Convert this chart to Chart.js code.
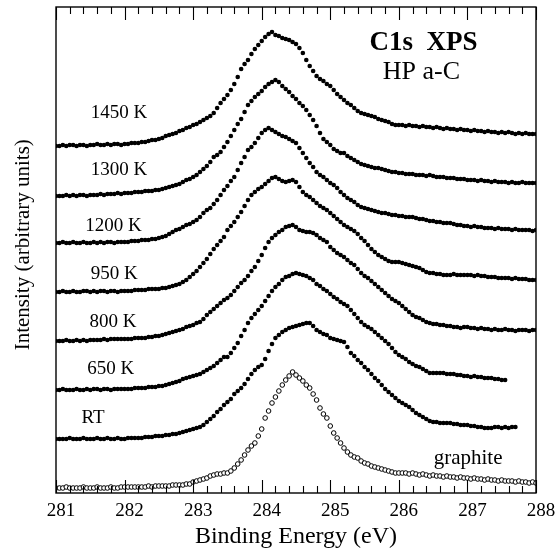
<!DOCTYPE html>
<html>
<head>
<meta charset="utf-8">
<title>C1s XPS</title>
<script src="https://cdn.jsdelivr.net/npm/chart.js@4.4.1/dist/chart.umd.min.js"></script>
<style>
  html, body { margin: 0; padding: 0; background: #fff; }
</style>
</head>
<body>
<canvas id="chart" width="556" height="553"></canvas>
<script>
"use strict";

// binding energy grid (eV), one entry per measured point
var energies = [
  281.00, 281.05, 281.10, 281.15, 281.20, 281.25, 281.30, 281.35, 281.40, 281.45,
  281.50, 281.55, 281.60, 281.65, 281.70, 281.75, 281.80, 281.85, 281.90, 281.95,
  282.00, 282.05, 282.10, 282.15, 282.20, 282.25, 282.30, 282.35, 282.40, 282.45,
  282.50, 282.55, 282.60, 282.65, 282.70, 282.75, 282.80, 282.85, 282.90, 282.95,
  283.00, 283.05, 283.10, 283.15, 283.20, 283.25, 283.30, 283.35, 283.40, 283.45,
  283.50, 283.55, 283.60, 283.65, 283.70, 283.75, 283.80, 283.85, 283.90, 283.95,
  284.00, 284.05, 284.10, 284.15, 284.20, 284.25, 284.30, 284.35, 284.40, 284.45,
  284.50, 284.55, 284.60, 284.65, 284.70, 284.75, 284.80, 284.85, 284.90, 284.95,
  285.00, 285.05, 285.10, 285.15, 285.20, 285.25, 285.30, 285.35, 285.40, 285.45,
  285.50, 285.55, 285.60, 285.65, 285.70, 285.75, 285.80, 285.85, 285.90, 285.95,
  286.00, 286.05, 286.10, 286.15, 286.20, 286.25, 286.30, 286.35, 286.40, 286.45,
  286.50, 286.55, 286.60, 286.65, 286.70, 286.75, 286.80, 286.85, 286.90, 286.95,
  287.00, 287.05, 287.10, 287.15, 287.20, 287.25, 287.30, 287.35, 287.40, 287.45,
  287.50, 287.55, 287.60, 287.65, 287.70, 287.75, 287.80, 287.85, 287.90, 287.95,
  288.00
];

var xTickValues = [281, 282, 283, 284, 285, 286, 287, 288];

var seriesNames = ["1450 K", "1300 K", "1200 K", "950 K", "800 K", "650 K", "RT", "graphite"];

// vertical offset of each spectrum in the stack (arbitrary units)
var seriesOffsets = [347, 297, 250, 201, 152, 103, 54, 5];

// intensities above each spectrum's own baseline (arbitrary units)
var int1450 = [
  0, 0, 1, 0, 1, 1, 0, 1, 1, 0, 1, 1, 2, 1, 1, 2, 1, 2, 2, 1,
  2, 2, 3, 3, 3, 4, 4, 5, 6, 6, 7, 8, 10, 11, 12, 13, 15, 16, 18, 19,
  21, 22, 24, 26, 28, 30, 33, 38, 43, 47, 51, 56, 62, 69, 77, 82, 86, 92, 97, 101,
  105, 109, 112, 114, 111, 110, 108, 107, 106, 104, 102, 98, 93, 86, 80, 75, 70, 67, 65, 62,
  60, 56, 52, 49, 46, 43, 41, 38, 35, 33, 32, 31, 30, 29, 27, 26, 25, 24, 22, 21,
  21, 21, 20, 21, 20, 20, 19, 20, 19, 19, 18, 19, 18, 17, 18, 17, 17, 16, 17, 16,
  16, 15, 16, 15, 15, 14, 15, 14, 14, 13, 14, 13, 14, 13, 12, 13, 12, 13, 12, 12,
  12
];

var int1300 = [
  0, 0, 0, 1, 0, 1, 0, 1, 1, 0, 1, 1, 1, 2, 1, 2, 2, 2, 3, 2,
  3, 3, 3, 4, 4, 4, 5, 5, 5, 6, 6, 7, 8, 9, 10, 11, 12, 14, 16, 17,
  19, 21, 24, 27, 30, 34, 39, 41, 44, 49, 54, 60, 66, 72, 77, 84, 91, 95, 99, 102,
  105, 109, 112, 114, 116, 114, 110, 107, 104, 100, 97, 93, 90, 86, 81, 76, 70, 63, 57, 54,
  51, 47, 45, 43, 43, 40, 38, 36, 34, 32, 31, 30, 29, 28, 28, 27, 26, 25, 24, 24,
  23, 23, 22, 22, 22, 21, 21, 21, 20, 21, 20, 19, 19, 19, 18, 18, 18, 17, 17, 17,
  16, 16, 16, 15, 16, 15, 15, 14, 15, 14, 14, 14, 13, 14, 13, 13, 14, 13, 13, 13,
  13
];

var int1200 = [
  0, 0, 1, 0, 0, 1, 0, 0, 1, 0, 0, 1, 0, 1, 0, 1, 1, 0, 1, 1,
  1, 1, 2, 2, 2, 3, 3, 3, 4, 4, 5, 6, 7, 9, 11, 13, 14, 16, 18, 19,
  21, 23, 26, 30, 33, 35, 39, 43, 48, 53, 57, 62, 66, 73, 80, 86, 93, 96, 100, 105,
  110, 113, 115, 113, 111, 109, 107, 106, 104, 102, 100, 95, 90, 85, 80, 76, 71, 68, 66, 63,
  60, 58, 55, 51, 48, 45, 43, 41, 38, 36, 35, 34, 33, 32, 31, 30, 30, 29, 28, 28,
  27, 27, 26, 26, 26, 25, 24, 24, 23, 22, 22, 21, 21, 20, 20, 20, 19, 18, 18, 17,
  17, 16, 17, 16, 16, 15, 15, 15, 14, 15, 14, 14, 14, 13, 14, 13, 13, 13, 13, 12,
  13
];

var int950 = [
  0, 0, 1, 0, 0, 1, 0, 0, 1, 1, 0, 1, 0, 1, 1, 0, 1, 1, 0, 1,
  1, 1, 1, 2, 2, 2, 2, 3, 3, 3, 3, 4, 4, 5, 6, 7, 8, 10, 12, 15,
  18, 21, 25, 29, 33, 38, 43, 47, 51, 55, 62, 66, 70, 75, 80, 86, 92, 97, 100, 103,
  105, 108, 111, 114, 115, 113, 111, 110, 111, 112, 110, 105, 100, 97, 95, 92, 89, 86, 84, 82,
  79, 76, 73, 70, 67, 65, 63, 61, 58, 54, 51, 47, 43, 40, 37, 35, 33, 31, 30, 30,
  30, 29, 28, 27, 26, 25, 24, 22, 20, 19, 19, 18, 18, 17, 17, 17, 18, 17, 17, 17,
  17, 17, 16, 17, 16, 16, 15, 15, 15, 14, 14, 14, 14, 13, 14, 13, 13, 13, 12, 12,
  12
];

var int800 = [
  0, 0, 0, 1, 0, 0, 1, 0, 1, 0, 1, 1, 1, 1, 2, 1, 2, 2, 2, 2,
  2, 2, 2, 3, 3, 3, 3, 4, 4, 5, 5, 6, 7, 8, 9, 10, 11, 12, 14, 15,
  16, 18, 19, 22, 26, 29, 32, 35, 38, 41, 43, 46, 50, 54, 58, 61, 65, 70, 74, 80,
  86, 93, 99, 103, 106, 109, 111, 114, 115, 116, 114, 111, 110, 109, 109, 108, 106, 103, 101, 99,
  94, 91, 88, 86, 84, 81, 78, 76, 72, 68, 65, 63, 60, 57, 54, 51, 48, 45, 42, 40,
  38, 35, 32, 29, 26, 24, 23, 21, 19, 18, 17, 17, 16, 16, 15, 15, 14, 14, 13, 14,
  14, 13, 13, 12, 13, 12, 12, 11, 12, 11, 11, 12, 11, 11, 10, 11, 11, 11, 10, 11,
  11
];

var int650 = [
  0, 0, 1, 0, 0, 0, 1, 0, 0, 1, 0, 1, 1, 0, 1, 1, 0, 1, 1, 1,
  1, 1, 1, 2, 2, 2, 2, 3, 3, 3, 4, 4, 5, 6, 7, 8, 9, 11, 12, 13,
  14, 15, 16, 18, 20, 22, 24, 27, 30, 33, 33, 37, 42, 47, 54, 60, 67, 72, 76, 80,
  84, 89, 94, 99, 103, 106, 110, 113, 114, 116, 117, 116, 115, 114, 112, 110, 106, 104, 101, 99,
  96, 93, 91, 88, 86, 84, 80, 76, 72, 68, 65, 63, 61, 58, 55, 52, 49, 46, 42, 38,
  35, 33, 31, 28, 26, 24, 23, 21, 19, 17, 17, 17, 17, 17, 16, 16, 16, 15, 15, 14,
  14, 13, 14, 13, 13, 12, 12, 12, 11, 11, 10, 10, null, null, null, null, null, null, null, null,
  null
];

var intRT = [
  0, 0, 0, 0, 1, 0, 0, 0, 1, 0, 0, 0, 1, 0, 0, 1, 0, 0, 1, 0,
  0, 1, 1, 1, 1, 1, 2, 2, 2, 3, 3, 3, 4, 4, 5, 5, 6, 7, 8, 9,
  10, 11, 12, 14, 17, 20, 23, 27, 30, 34, 37, 40, 45, 48, 51, 55, 60, 65, 69, 72,
  74, 80, 88, 95, 101, 104, 107, 109, 111, 112, 113, 114, 115, 116, 116, 113, 109, 107, 105, 104,
  101, 100, 99, 98, 97, 92, 86, 83, 79, 76, 72, 69, 65, 61, 58, 54, 50, 47, 44, 41,
  38, 36, 34, 32, 29, 26, 24, 22, 20, 18, 17, 17, 16, 16, 16, 16, 15, 15, 14, 14,
  14, 13, 13, 12, 12, 11, 11, 11, 12, 12, 11, 12, 11, 12, 12, null, null, null, null, null,
  null
];

var intGraphite = [
  0, 0, 0, 1, 0, 0, 0, 0, 1, 0, 0, 0, 1, 0, 0, 0, 1, 0, 0, 1,
  1, 1, 1, 1, 1, 1, 1, 2, 1, 2, 2, 2, 2, 2, 3, 3, 3, 3, 4, 4,
  6, 7, 8, 9, 10, 12, 13, 14, 14, 15, 15, 17, 20, 24, 28, 33, 38, 42, 45, 52,
  59, 70, 77, 85, 91, 97, 103, 108, 112, 116, 113, 110, 107, 103, 100, 94, 88, 80, 74, 70,
  62, 55, 50, 45, 40, 36, 33, 31, 30, 27, 25, 24, 22, 21, 20, 19, 18, 17, 16, 15,
  15, 15, 15, 14, 15, 14, 13, 14, 13, 12, 13, 12, 12, 11, 12, 11, 11, 10, 11, 10,
  10, 9, 10, 9, 9, 8, 9, 8, 8, 7, 8, 7, 7, 7, 6, 7, 6, 6, 5, 6,
  5
];

var seriesValues = [int1450, int1300, int1200, int950, int800, int650, intRT, intGraphite];

var SERIF = "'Liberation Serif', 'Times New Roman', Times, serif";

// text written inside the plot, placed in data coordinates
var annotations = [
  { text: "1450 K", x: 281.92, y: 380, size: 19, weight: "normal" },
  { text: "1300 K", x: 281.92, y: 323, size: 19, weight: "normal" },
  { text: "1200 K", x: 281.84, y: 267, size: 19, weight: "normal" },
  { text: "950 K", x: 281.85, y: 219, size: 19, weight: "normal" },
  { text: "800 K", x: 281.83, y: 171, size: 19, weight: "normal" },
  { text: "650 K", x: 281.80, y: 124, size: 19, weight: "normal" },
  { text: "RT", x: 281.54, y: 75, size: 19, weight: "normal" },
  { text: "graphite", x: 287.01, y: 35, size: 21, weight: "normal" },
  { text: "C1s  XPS", x: 286.36, y: 450, size: 27, weight: "bold" },
  { text: "HP a-C", x: 286.33, y: 421, size: 26, weight: "normal" }
];

function buildPoints(values, offset) {
  var pts = [];
  for (var i = 0; i < energies.length; i++) {
    if (values[i] === null) continue;
    pts.push({ x: energies[i], y: values[i] + offset });
  }
  return pts;
}

var datasets = seriesNames.map(function(name, k) {
  var open = name === "graphite";
  return {
    label: name,
    data: buildPoints(seriesValues[k], seriesOffsets[k]),
    showLine: false,
    pointStyle: "circle",
    pointRadius: 2.3,
    pointBorderWidth: open ? 1 : 0,
    pointBorderColor: "#000",
    pointBackgroundColor: open ? "#fff" : "#000"
  };
});

// box around the plot plus inward tick marks on top and bottom
var framePlugin = {
  id: "frame",
  afterDatasetsDraw: function(chart) {
    var ctx = chart.ctx;
    var a = chart.chartArea;
    var xs = chart.scales.x;
    ctx.save();
    ctx.strokeStyle = "#000";
    ctx.lineWidth = 1.4;
    ctx.strokeRect(a.left, a.top, a.right - a.left, a.bottom - a.top);
    ctx.lineWidth = 1.1;
    for (var v = xTickValues[0]; v <= xTickValues[xTickValues.length - 1]; v++) {
      for (var k = 0; k < 5; k++) {
        var val = v + k * 0.2;
        if (val > xTickValues[xTickValues.length - 1] + 1e-9) break;
        var px = Math.round(xs.getPixelForValue(val)) + 0.5;
        var len = k === 0 ? 13 : 7;
        ctx.beginPath();
        ctx.moveTo(px, a.bottom);
        ctx.lineTo(px, a.bottom - len);
        ctx.moveTo(px, a.top);
        ctx.lineTo(px, a.top + len);
        ctx.stroke();
      }
    }
    ctx.restore();
  }
};

var textPlugin = {
  id: "texts",
  afterDatasetsDraw: function(chart) {
    var ctx = chart.ctx;
    var xs = chart.scales.x;
    var ys = chart.scales.y;
    ctx.save();
    ctx.fillStyle = "#000";
    ctx.textAlign = "center";
    ctx.textBaseline = "middle";
    annotations.forEach(function(t) {
      ctx.font = t.weight + " " + t.size + "px " + SERIF;
      ctx.fillText(t.text, xs.getPixelForValue(t.x), ys.getPixelForValue(t.y));
    });
    ctx.restore();
  }
};

new Chart(document.getElementById("chart"), {
  type: "scatter",
  data: { datasets: datasets },
  options: {
    responsive: false,
    animation: false,
    events: [],
    layout: {
      autoPadding: false,
      padding: { top: 7, right: 20, bottom: 0, left: 0 }
    },
    plugins: {
      legend: { display: false },
      tooltip: { enabled: false }
    },
    scales: {
      x: {
        type: "linear",
        position: "bottom",
        min: 281,
        max: 288,
        grid: { display: false, drawTicks: false },
        border: { display: false },
        ticks: {
          stepSize: 1,
          autoSkip: false,
          maxRotation: 0,
          padding: 5,
          labelOffset: 5,
          color: "#000",
          font: { family: SERIF, size: 19, lineHeight: 1.35 }
        },
        title: {
          display: true,
          text: "Binding Energy (eV)",
          color: "#000",
          font: { family: SERIF, size: 24 },
          padding: { top: 0, bottom: 2 }
        },
        afterFit: function(s) { s.height = 60; }
      },
      y: {
        type: "linear",
        min: 0,
        max: 486,
        grid: { display: false, drawTicks: false },
        border: { display: false },
        ticks: { display: false },
        title: {
          display: true,
          text: "  Intensity (arbitrary units)",
          color: "#000",
          font: { family: SERIF, size: 21 },
          padding: { top: 11, bottom: 0 }
        },
        afterFit: function(s) { s.width = 56; }
      }
    }
  },
  plugins: [framePlugin, textPlugin]
});
</script>
</body>
</html>
